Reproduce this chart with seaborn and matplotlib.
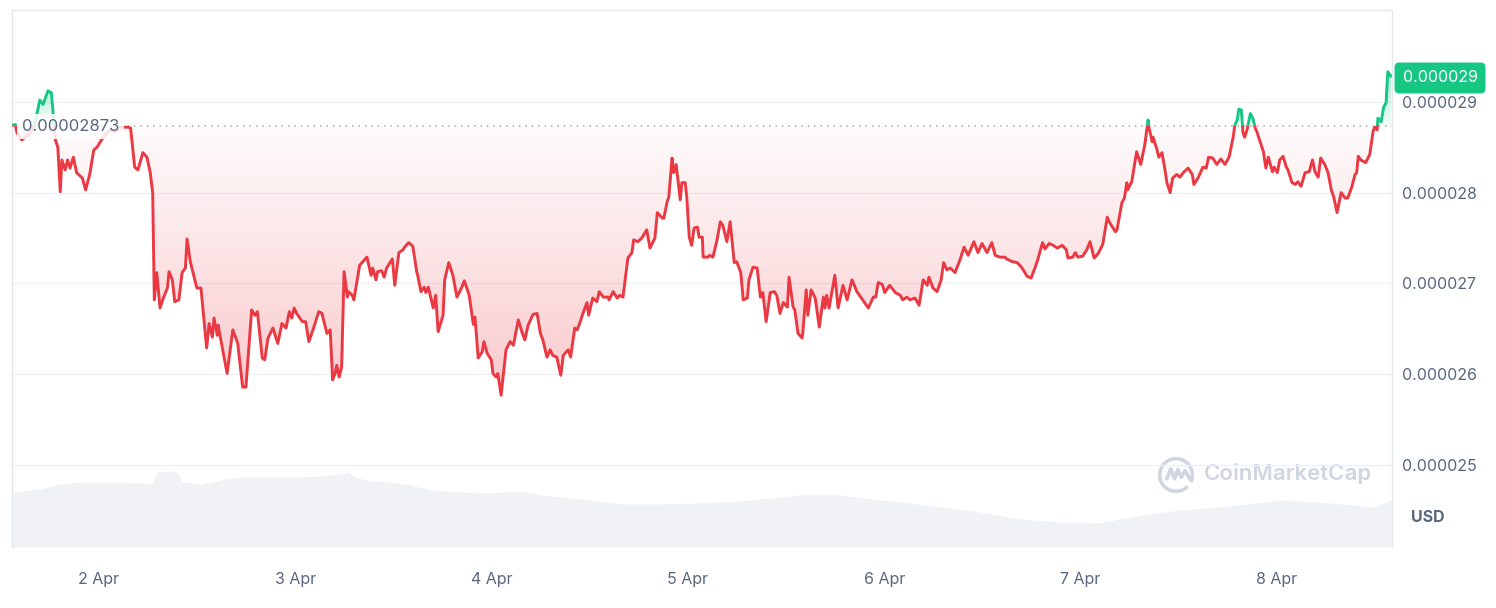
import numpy as np
import pandas as pd
import matplotlib
matplotlib.use("Agg")
import matplotlib.pyplot as plt
import matplotlib.dates as mdates
from matplotlib.path import Path
from matplotlib.patches import PathPatch, Rectangle, Arc
from matplotlib.colors import to_rgb
import seaborn as sns

# price in micro-USD, time in hours since the first sample (1 Apr ~13:22)
hours = [
    0.0, 0.4, 0.6, 1.2, 2.0, 2.6, 3.1, 3.4, 3.8, 4.4,
    4.8, 5.0, 5.3, 5.6, 5.9, 6.1, 6.5, 6.8, 7.1, 7.5,
    7.9, 8.6, 9.0, 9.5, 10.0, 10.4, 10.8, 11.4, 12.0, 12.6,
    13.2, 14.2, 14.5, 15.0, 15.4, 16.0, 16.5, 16.9, 17.2, 17.4,
    17.7, 18.1, 18.5, 19.0, 19.2, 19.6, 19.9, 20.4, 20.8, 21.2,
    21.4, 21.8, 22.1, 22.6, 23.1, 23.4, 23.8, 24.1, 24.5, 24.7,
    25.1, 25.2, 25.7, 26.3, 27.0, 27.6, 28.2, 28.6, 29.3, 29.7,
    30.0, 30.6, 30.9, 31.3, 31.9, 32.5, 33.0, 33.5, 33.9, 34.2,
    34.5, 34.8, 35.5, 35.9, 36.3, 36.8, 37.5, 37.9, 38.5, 38.9,
    39.2, 39.5, 39.7, 40.0, 40.3, 40.6, 41.0, 41.1, 41.6, 41.8,
    42.5, 42.9, 43.4, 43.9, 44.1, 44.5, 44.7, 45.2, 45.5, 45.8,
    46.5, 46.8, 47.3, 47.8, 48.0, 48.5, 49.0, 49.5, 49.6, 50.0,
    50.4, 50.6, 50.9, 51.5, 51.8, 52.1, 52.7, 52.9, 53.4, 53.9,
    54.4, 55.0, 55.3, 55.9, 56.4, 56.6, 57.0, 57.5, 57.7, 58.1,
    58.6, 58.8, 59.2, 59.4, 59.8, 60.4, 60.9, 61.3, 61.9, 62.4,
    62.7, 63.1, 63.7, 64.2, 64.6, 64.9, 65.4, 65.8, 66.1, 66.6,
    67.1, 67.4, 68.0, 68.3, 68.8, 69.1, 69.4, 69.8, 70.3, 70.5,
    71.0, 71.5, 71.8, 72.3, 72.9, 73.0, 73.5, 74.0, 74.3, 74.7,
    75.3, 75.8, 76.0, 76.5, 77.0, 77.6, 78.0, 78.6, 78.9, 79.5,
    79.7, 80.1, 80.3, 80.7, 80.9, 81.2, 81.7, 81.9, 82.3, 82.5,
    82.8, 83.1, 83.4, 83.8, 84.0, 84.4, 84.5, 85.1, 85.3, 85.7,
    86.2, 86.6, 86.9, 87.4, 87.8, 88.3, 88.6, 89.1, 89.4, 89.9,
    90.1, 90.6, 91.1, 91.5, 91.8, 92.2, 92.7, 93.2, 93.5, 93.9,
    94.3, 94.8, 95.0, 95.5, 95.7, 96.1, 96.6, 96.7, 97.1, 97.3,
    97.7, 98.2, 98.7, 99.2, 99.4, 99.6, 99.9, 100.6, 101.0, 101.6,
    102.1, 102.7, 103.3, 104.0, 104.7, 105.3, 105.6, 105.9, 106.4, 106.7,
    107.3, 108.0, 108.6, 108.9, 109.4, 109.8, 110.4, 110.9, 111.4, 111.9,
    112.1, 112.6, 113.1, 113.6, 113.9, 114.3, 114.7, 115.3, 115.9, 116.4,
    116.9, 117.6, 118.1, 118.6, 119.2, 119.8, 120.2, 120.8, 121.4, 121.6,
    122.3, 122.9, 123.5, 124.1, 124.6, 125.1, 125.4, 126.0, 126.3, 126.8,
    127.3, 127.8, 128.4, 128.9, 129.1, 129.7, 130.0, 130.3, 130.9, 131.4,
    131.8, 132.3, 132.8, 133.3, 133.4, 133.9, 134.2, 134.9, 135.1, 135.7,
    136.0, 136.3, 136.4, 136.9, 137.5, 138.0, 138.5, 138.9, 139.0, 139.4,
    139.5, 140.0, 140.2, 140.6, 141.0, 141.2, 141.6, 141.9, 142.4, 142.8,
    143.2, 143.8, 144.3, 144.5, 145.0, 145.6, 146.0, 146.3, 146.8, 147.3,
    147.8, 148.3, 148.8, 149.3, 149.5, 149.8, 150.0, 150.3, 150.5, 150.7,
    151.0, 151.4, 151.7, 152.0, 152.2, 152.6, 153.0, 153.3, 153.6, 154.1,
    154.3, 154.7, 155.0, 155.4, 155.8, 156.0, 156.5, 156.9, 157.2, 157.6,
    158.1, 158.6, 159.0, 159.3, 159.7, 160.0, 160.5, 160.9, 161.3, 161.6,
    162.0, 162.5, 163.0, 163.3, 163.8, 164.2, 164.4, 164.6, 164.9, 165.5,
    166.0, 166.4, 166.6, 166.9, 167.0, 167.4, 167.7, 168.0, 168.2, 168.6,
]
price_u = [
    28.74, 28.75, 28.66, 28.58, 28.64, 28.71, 28.89, 29.02, 28.97, 29.12,
    29.10, 28.91, 28.58, 28.50, 28.01, 28.36, 28.25, 28.36, 28.27, 28.39,
    28.22, 28.16, 28.03, 28.20, 28.47, 28.50, 28.56, 28.64, 28.69, 28.67,
    28.72, 28.72, 28.71, 28.28, 28.25, 28.44, 28.39, 28.22, 28.00, 26.82,
    27.12, 26.73, 26.84, 26.95, 27.13, 27.04, 26.80, 26.82, 27.12, 27.17,
    27.49, 27.24, 27.13, 26.95, 26.95, 26.67, 26.29, 26.56, 26.41, 26.62,
    26.43, 26.54, 26.30, 26.01, 26.49, 26.34, 25.86, 25.86, 26.71, 26.65,
    26.69, 26.18, 26.16, 26.40, 26.51, 26.34, 26.56, 26.51, 26.69, 26.62,
    26.73, 26.67, 26.58, 26.58, 26.36, 26.49, 26.69, 26.67, 26.45, 26.49,
    25.94, 26.01, 26.10, 25.97, 26.08, 27.13, 26.85, 26.91, 26.87, 26.82,
    27.20, 27.24, 27.29, 27.09, 27.17, 27.04, 27.13, 27.14, 27.07, 27.17,
    27.27, 26.98, 27.34, 27.37, 27.40, 27.45, 27.41, 27.12, 27.09, 26.91,
    26.96, 26.90, 26.96, 26.73, 26.87, 26.47, 26.65, 27.04, 27.23, 27.09,
    26.85, 26.96, 27.03, 26.87, 26.55, 26.63, 26.18, 26.25, 26.36, 26.23,
    26.16, 26.01, 25.97, 26.01, 25.77, 26.27, 26.36, 26.32, 26.60, 26.45,
    26.38, 26.54, 26.66, 26.67, 26.45, 26.38, 26.19, 26.27, 26.21, 26.19,
    25.99, 26.21, 26.27, 26.19, 26.51, 26.49, 26.56, 26.67, 26.79, 26.65,
    26.84, 26.80, 26.91, 26.85, 26.85, 26.82, 26.91, 26.84, 26.87, 26.85,
    27.28, 27.34, 27.48, 27.46, 27.50, 27.59, 27.39, 27.50, 27.78, 27.72,
    27.72, 27.90, 27.95, 28.38, 28.22, 28.31, 27.92, 28.11, 28.11, 27.95,
    27.51, 27.42, 27.61, 27.62, 27.51, 27.51, 27.29, 27.29, 27.31, 27.29,
    27.48, 27.68, 27.64, 27.46, 27.68, 27.23, 27.24, 27.12, 26.82, 26.84,
    27.04, 27.18, 27.17, 26.85, 26.90, 26.58, 26.90, 26.91, 26.87, 26.67,
    26.79, 26.74, 27.07, 26.74, 26.71, 26.45, 26.40, 26.47, 26.93, 26.65,
    26.93, 26.84, 26.52, 26.85, 26.73, 26.87, 26.73, 27.09, 26.73, 26.98,
    26.82, 27.04, 26.91, 26.82, 26.73, 26.85, 26.85, 27.01, 26.99, 26.90,
    26.98, 26.90, 26.87, 26.82, 26.85, 26.82, 26.84, 26.76, 27.04, 26.98,
    27.07, 26.95, 26.91, 27.04, 27.23, 27.15, 27.17, 27.12, 27.26, 27.40,
    27.31, 27.46, 27.34, 27.44, 27.34, 27.45, 27.31, 27.29, 27.29, 27.27,
    27.24, 27.23, 27.17, 27.08, 27.06, 27.18, 27.26, 27.45, 27.38, 27.44,
    27.42, 27.39, 27.42, 27.37, 27.28, 27.29, 27.34, 27.29, 27.30, 27.37,
    27.46, 27.28, 27.33, 27.42, 27.45, 27.73, 27.67, 27.57, 27.59, 27.89,
    27.94, 28.11, 28.03, 28.12, 28.45, 28.31, 28.53, 28.80, 28.72, 28.56,
    28.61, 28.47, 28.39, 28.44, 28.23, 28.11, 28.00, 28.16, 28.20, 28.17,
    28.22, 28.27, 28.20, 28.09, 28.16, 28.28, 28.27, 28.39, 28.38, 28.31,
    28.37, 28.31, 28.39, 28.61, 28.74, 28.80, 28.92, 28.91, 28.66, 28.61,
    28.69, 28.87, 28.82, 28.71, 28.67, 28.56, 28.45, 28.27, 28.39, 28.23,
    28.28, 28.22, 28.36, 28.40, 28.28, 28.25, 28.11, 28.09, 28.12, 28.07,
    28.22, 28.23, 28.36, 28.23, 28.17, 28.38, 28.31, 28.22, 28.03, 27.95,
    27.78, 28.00, 27.94, 27.94, 28.06, 28.20, 28.22, 28.40, 28.36, 28.33,
    28.42, 28.67, 28.72, 28.69, 28.82, 28.78, 28.94, 28.99, 29.33, 29.28,
]

# trading volume (relative units), sampled along the same time axis
vol_hours = [0.0, 3.4, 5.9, 8.3, 12.0, 15.6, 17.1, 17.8, 19.3, 20.3, 20.8, 23.0,
             25.4, 27.9, 30.3, 32.8, 35.2, 37.7, 40.1, 41.1, 41.9, 43.8, 46.2,
             48.7, 51.1, 54.8, 58.4, 62.1, 64.6, 69.4, 74.3, 79.2, 84.1, 89.0,
             93.9, 96.3, 101.2, 104.9, 108.6, 113.5, 118.3, 123.2, 128.1, 133.0,
             137.9, 142.8, 150.1, 155.0, 159.9, 163.6, 166.6, 168.7]
volume = [55, 58, 63, 65, 65, 64, 63, 75, 76, 74, 65, 63,
          67, 70, 70, 70, 70, 71, 73, 75, 70, 66, 65,
          62, 57, 55, 54, 56, 52, 48, 43, 43, 44, 46,
          50, 52, 52, 48, 45, 40, 35, 28, 25, 24,
          32, 37, 42, 47, 45, 42, 40, 48]

open_price = 28.73e-6
last_label = "0.000029"
start = pd.Timestamp("2024-04-01 13:22")
day_ticks = pd.date_range("2024-04-02", periods=7, freq="D")

RED = "#ea3943"
GREEN = "#16c784"
GREY = "#58667e"

sns.set_theme(style="white")
plt.rcParams["font.family"] = ["Inter", "DejaVu Sans"]

times = start + pd.to_timedelta(hours, unit="h")
df = pd.DataFrame({"time": times, "price": np.array(price_u) * 1e-6})
tnum = mdates.date2num(df["time"])
vol_t = mdates.date2num(start + pd.to_timedelta(vol_hours, unit="h"))

fig = plt.figure(figsize=(14.96, 6.08), dpi=100)
ax = fig.add_axes([12 / 1496, 61 / 608, 1380 / 1496, 537 / 608])
axv = ax.twinx()
ax.set_zorder(2)
ax.patch.set_visible(False)

x0 = mdates.date2num(start)
x1 = mdates.date2num(start + pd.Timedelta(hours=168.72))
y0, y1 = 24.10e-6, 30.01e-6

# volume in the background
axv.fill_between(vol_t, volume, color="#f0f2f5", lw=0)
axv.set_ylim(0, 537)
axv.set_yticks([])
for s in axv.spines.values():
    s.set_visible(False)

# gradient fills between price and the opening price
def gradient_fill(mask, color, lo, hi, a_lo, a_hi):
    poly = ax.fill_between(tnum, df["price"], open_price, where=mask,
                           interpolate=True, facecolor="none", edgecolor="none")
    clip = PathPatch(Path.make_compound_path(*poly.get_paths()),
                     transform=ax.transData, facecolor="none", edgecolor="none")
    ax.add_patch(clip)
    img = np.zeros((256, 1, 4))
    img[:, 0, :3] = to_rgb(color)
    img[:, 0, 3] = np.linspace(a_lo, a_hi, 256)
    im = ax.imshow(img, extent=[x0, x1, lo, hi], origin="lower",
                   aspect="auto", zorder=1)
    im.set_clip_path(clip)

price = df["price"].values
gradient_fill(price <= open_price, RED, 25.75e-6, open_price, 0.27, 0.02)
gradient_fill(price >= open_price, GREEN, open_price, 29.35e-6, 0.04, 0.40)
ax.set_xlim(x0, x1)
ax.set_ylim(y0, y1)

# price line, red below and green above the opening price
sns.lineplot(data=df, x="time", y="price", ax=ax, color=RED, lw=2.1,
             estimator=None, zorder=3)
ax.lines[-1].set_clip_path(Rectangle((x0, y0), x1 - x0, open_price - y0,
                                     transform=ax.transData))
sns.lineplot(data=df, x="time", y="price", ax=ax, color=GREEN, lw=2.1,
             estimator=None, zorder=3)
ax.lines[-1].set_clip_path(Rectangle((x0, open_price), x1 - x0, y1 - open_price,
                                     transform=ax.transData))
ax.set_xlim(x0, x1)
ax.set_ylim(y0, y1)

ax.axhline(open_price, color="#a3aabb", lw=1.1, ls=(0, (1, 3.2)), zorder=2)
ax.text(x0 + (x1 - x0) * 10 / 1380, open_price, "0.00002873", color=GREY,
        fontsize=12, va="center", ha="left", zorder=4,
        bbox=dict(boxstyle="square,pad=0.3", fc="white", ec="none", alpha=0.85))

# axes styling
ax.set_xlabel("")
ax.set_ylabel("")
ax.set_yticks(np.array([25, 26, 27, 28, 29]) * 1e-6)
ax.yaxis.set_major_formatter(plt.FuncFormatter(lambda v, p: f"{v:.6f}"))
ax.yaxis.tick_right()
ax.set_xticks(mdates.date2num(day_ticks))
ax.xaxis.set_major_formatter(mdates.DateFormatter("%-d %b"))
ax.tick_params(axis="y", length=0, pad=7, labelcolor=GREY, labelsize=11.5)
ax.tick_params(axis="x", length=0, pad=18, labelcolor=GREY, labelsize=11.5)
ax.yaxis.grid(True, color="#eff2f5", lw=1)
ax.xaxis.grid(False)
for name, s in ax.spines.items():
    s.set_visible(name != "bottom")
    s.set_color("#e3e6eb")
    s.set_linewidth(1)

# current price tag and labels
fig.text(1440 / 1496, 1 - 78 / 608, last_label, color="white", fontsize=11.5,
         ha="center", va="center",
         bbox=dict(boxstyle="round,pad=0.5,rounding_size=0.3", fc=GREEN, ec="none"))
fig.text(1428 / 1496, 1 - 518 / 608, "USD", color=GREY, fontsize=11.5,
         fontweight="bold", ha="center", va="center")

# watermark
fig.text(1204 / 1496, 1 - 474 / 608, "CoinMarketCap", color="#cfd5e1",
         fontsize=16, fontweight="semibold", ha="left", va="center", zorder=0)
logo = fig.add_axes([1157 / 1496, (608 - 494) / 608, 38 / 1496, 38 / 608])
logo.set_xlim(0, 1)
logo.set_ylim(0, 1)
logo.set_aspect("equal")
logo.axis("off")
logo.add_patch(Arc((0.5, 0.5), 0.86, 0.86, theta1=-25, theta2=315,
                   color="#cfd5e1", lw=2.6))
logo.plot([0.26, 0.36, 0.46, 0.55, 0.64, 0.74, 0.86],
          [0.40, 0.66, 0.40, 0.64, 0.44, 0.62, 0.40],
          color="#cfd5e1", lw=2.6, solid_capstyle="round")

fig.savefig("out.png", dpi=100, facecolor="white")
